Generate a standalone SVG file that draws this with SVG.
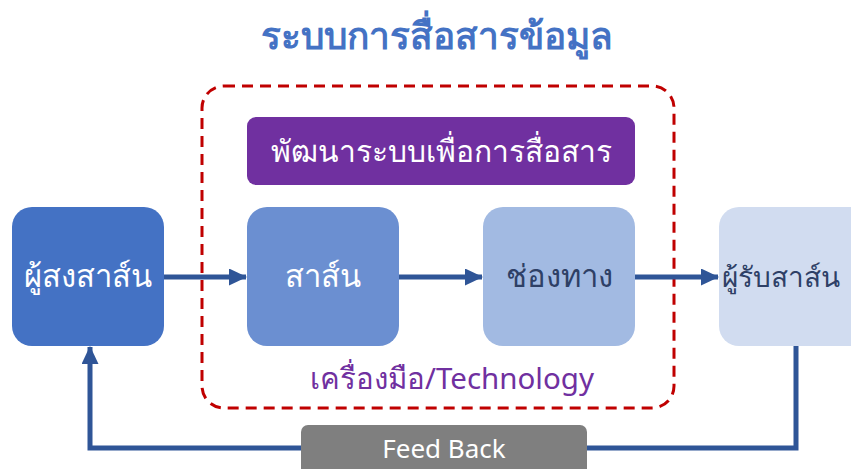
<svg xmlns="http://www.w3.org/2000/svg" width="851" height="469" viewBox="0 0 851 469">
<style>
  text { font-family: "Noto Sans", "DejaVu Sans", sans-serif; text-anchor: middle; }
  .w { fill: #ffffff; font-size: 31px; }
  .d { fill: #2E4066; font-size: 31px; }
  .conn { stroke: #2F5597; stroke-width: 5; fill: none; }
</style>
<defs>
  <marker id="ah" markerWidth="3.6" markerHeight="3.4" refX="3.4" refY="1.7" orient="auto" markerUnits="strokeWidth">
    <path d="M0,0 L3.6,1.7 L0,3.4 z" fill="#2F5597"/>
  </marker>
</defs>
<rect width="851" height="469" fill="#ffffff"/>
<text id="title" x="437" y="49" style="font-size:37px;font-weight:bold;fill:#4472C4">ระบบการสื่อสารข้อมูล</text>

<g id="tech-frame">
  <rect x="202" y="86" width="472" height="322" rx="22" fill="none" stroke="#C00000" stroke-width="3" stroke-dasharray="11,7"/>
  <text x="452" y="389" style="font-size:29.5px;fill:#7030A0">เครื่องมือ/Technology</text>
</g>

<g id="develop">
  <rect x="247" y="117" width="388" height="68" rx="9" fill="#7030A0"/>
  <text class="w" x="441" y="162" style="font-size:30px">พัฒนาระบบเพื่อการสื่อสาร</text>
</g>

<g id="connectors">
  <line class="conn" x1="163" y1="277" x2="246" y2="277" marker-end="url(#ah)"/>
  <line class="conn" x1="398" y1="277" x2="482" y2="277" marker-end="url(#ah)"/>
  <line class="conn" x1="634" y1="277" x2="718" y2="277" marker-end="url(#ah)"/>
  <polyline class="conn" points="796,343 796,448 90,448 90,347" marker-end="url(#ah)"/>
</g>

<g id="sender">
  <rect x="12" y="207" width="152" height="139" rx="20" fill="#4472C4"/>
  <text class="w" x="88" y="287">ผู้สงสาส์น</text>
</g>
<g id="message">
  <rect x="247" y="207" width="152" height="139" rx="20" fill="#6B8FD1"/>
  <text class="w" x="323" y="287">สาส์น</text>
</g>
<g id="channel">
  <rect x="483" y="207" width="152" height="139" rx="20" fill="#A2BAE2"/>
  <text class="d" x="559" y="287">ช่องทาง</text>
</g>
<g id="receiver">
  <rect x="719" y="207" width="152" height="139" rx="20" fill="#D1DCF0"/>
  <text class="d" x="722" y="287" style="text-anchor:start;font-size:28px">ผู้รับสาส์น</text>
</g>
<g id="feedback">
  <rect x="301" y="425" width="286" height="50" rx="7" fill="#7F7F7F"/>
  <text x="444" y="458" style="font-size:26px;fill:#ffffff">Feed Back</text>
</g>
</svg>
